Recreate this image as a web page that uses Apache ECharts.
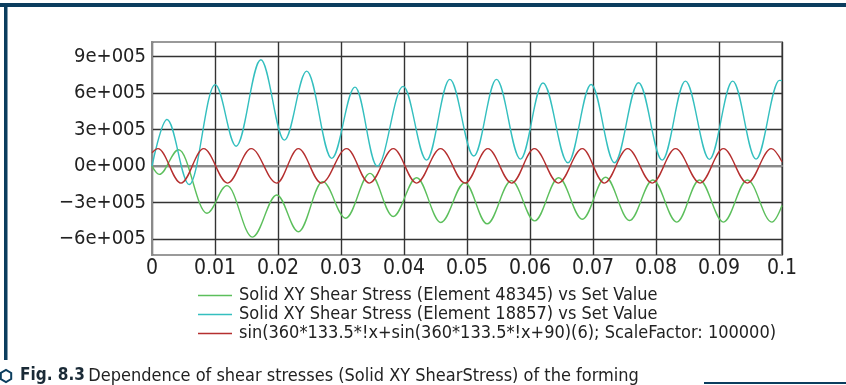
<!DOCTYPE html>
<html>
<head>
<meta charset="utf-8">
<script src="https://cdn.jsdelivr.net/npm/echarts@6/dist/echarts.min.js"></script>
<style>
html,body{margin:0;padding:0;background:#fff;}
#chart{width:846px;height:385px;}
</style>
</head>
<body>
<div id="chart"></div>
<script>
// ---- data ----
const xTickLabels = ['0','0.01','0.02','0.03','0.04','0.05','0.06','0.07','0.08','0.09','0.1'];
const yTickValues = [-600000,-300000,0,300000,600000,900000];
const yTickLabels = ['\u22126e+005','\u22123e+005','0e+000','3e+005','6e+005','9e+005'];

const seriesNames = [
  'Solid XY Shear Stress (Element 48345) vs Set Value',
  'Solid XY Shear Stress (Element 18857) vs Set Value',
  'sin(360*133.5*!x+sin(360*133.5*!x+90)(6); ScaleFactor: 100000)'
];

// green: Element 48345 (extrema)
const greenT = [0,0.00116,0.00422,0.00872,0.01189,0.01594,0.01981,0.02323,0.0271,0.03074,0.0346,0.03829,0.042,0.04585,0.04965,0.05319,0.05705,0.06074,0.06455,0.0683,0.072,0.0758,0.0795,0.0833,0.0869,0.0907,0.0945,0.0984,0.1];
const greenV = [0,-68000,134000,-387000,-161000,-583000,-237000,-539000,-128000,-428000,-60000,-414000,-96000,-463000,-137000,-474000,-120000,-450000,-96000,-436000,-92000,-447000,-114000,-460000,-114000,-460000,-114000,-460000,-324000];

// cyan: Element 18857
const cyanT = [0,0.00238,0.00591,0.01003,0.01336,0.01727,0.02101,0.02456,0.02853,0.03222,0.03575,0.03987,0.04358,0.04727,0.05108,0.05468,0.05848,0.06206,0.06602,0.0697,0.07342,0.07723,0.08098,0.08467,0.08848,0.09217,0.09588,0.0996,0.1];
const cyanV = [0,382000,-152000,668000,163000,872000,213000,779000,63000,648000,0,654000,49000,711000,82000,711000,57000,681000,27000,669000,27000,684000,49000,697000,55000,697000,57000,703000,701000];

// red: set value
const redT = [0,0.00095,0.0046,0.0082,0.012,0.01574,0.0198,0.02323,0.0269,0.0309,0.0345,0.0383,0.042,0.0458,0.0497,0.0533,0.0571,0.0607,0.0645,0.0683,0.0718,0.0755,0.0794,0.0831,0.087,0.0907,0.0945,0.0983,0.1];
const redV = [109000,143000,-140000,143000,-140000,143000,-140000,143000,-140000,143000,-140000,143000,-140000,143000,-140000,143000,-140000,143000,-140000,143000,-140000,143000,-140000,143000,-140000,143000,-140000,143000,35000];

const seriesColors = ['#5cbf5c','#34bfbf','#b52f2f'];

// ---- chart ----
const FONT = "'Liberation Sans Narrow','DejaVu Sans Condensed','Roboto',sans-serif";
const NAVY = '#0b3d5e';
const toPairs = (t, v) => t.map((x, i) => [x, v[i]]);
const chart = echarts.init(document.getElementById('chart'), null, {renderer: 'canvas'});

function hexPoints(cx, cy, r) {
  const pts = [];
  for (let k = 0; k < 6; k++) {
    const a = Math.PI / 6 + k * Math.PI / 3;
    pts.push([cx + r * Math.cos(a), cy + r * Math.sin(a)]);
  }
  return pts;
}

const option = {
  animation: false,
  backgroundColor: '#ffffff',
  grid: {
    left: 152, right: 64, top: 42, bottom: 130,
    show: true, borderColor: '#9a9a9a', borderWidth: 2, backgroundColor: 'transparent'
  },
  xAxis: {
    type: 'value', min: 0, max: 0.1, interval: 0.01,
    axisLine: {show: true, lineStyle: {color: '#8a8a8a', width: 2}},
    axisTick: {show: false},
    splitLine: {show: true, lineStyle: {color: '#333333', width: 1.4}},
    axisLabel: {
      margin: 3, color: '#222', fontFamily: FONT, fontSize: 21,
      formatter: (v, i) => xTickLabels[i]
    }
  },
  yAxis: {
    type: 'value', min: -730000, max: 1018000,
    axisLine: {show: true, lineStyle: {color: '#8a8a8a', width: 2}},
    axisTick: {show: false, customValues: yTickValues},
    splitLine: {show: true, lineStyle: {color: '#333333', width: 1.4}},
    axisLabel: {
      margin: 6, color: '#222', fontFamily: FONT, fontSize: 20,
      customValues: yTickValues,
      formatter: (v) => yTickLabels[yTickValues.indexOf(v)]
    }
  },
  legend: {
    orient: 'vertical', left: 198, top: 286, itemGap: 0, padding: 0,
    icon: 'rect', itemWidth: 34, itemHeight: 1.5,
    textStyle: {fontFamily: FONT, fontSize: 18, color: '#222', lineHeight: 19, padding: [0, 0, 0, 2]},
    data: seriesNames
  },
  series: [
    {name: seriesNames[0], type: 'line', data: toPairs(greenT, greenV), smooth: 0.36, smoothMonotone: 'x', symbol: 'none', lineStyle: {color: seriesColors[0], width: 1.4}, itemStyle: {color: seriesColors[0]}, z: 3},
    {name: seriesNames[1], type: 'line', data: toPairs(cyanT, cyanV), smooth: 0.36, smoothMonotone: 'x', symbol: 'none', lineStyle: {color: seriesColors[1], width: 1.4}, itemStyle: {color: seriesColors[1]}, z: 3},
    {name: seriesNames[2], type: 'line', data: toPairs(redT, redV), smooth: 0.36, smoothMonotone: 'x', symbol: 'none', lineStyle: {color: seriesColors[2], width: 1.4}, itemStyle: {color: seriesColors[2]}, z: 3}
  ],
  graphic: [
    {type: 'rect', shape: {x: 0, y: 3, width: 846, height: 4}, style: {fill: NAVY}, silent: true},
    {type: 'rect', shape: {x: 4, y: 3, width: 3.5, height: 357}, style: {fill: NAVY}, silent: true},
    {type: 'rect', shape: {x: 704, y: 382, width: 142, height: 2}, style: {fill: NAVY}, silent: true},
    {type: 'polygon', shape: {points: hexPoints(6, 376, 6)}, style: {fill: 'none', stroke: NAVY, lineWidth: 2}, silent: true},
    {type: 'text', left: 20, top: 367, silent: true,
      style: {
        text: '{b|Fig. 8.3} {n|Dependence of shear stresses (Solid XY ShearStress) of the forming}',
        rich: {
          b: {fontFamily: FONT, fontSize: 17, fontWeight: 'bold', fill: '#1a2a36'},
          n: {fontFamily: FONT, fontSize: 18, fill: '#222'}
        }
      }
    }
  ]
};
chart.setOption(option);
</script>
</body>
</html>
